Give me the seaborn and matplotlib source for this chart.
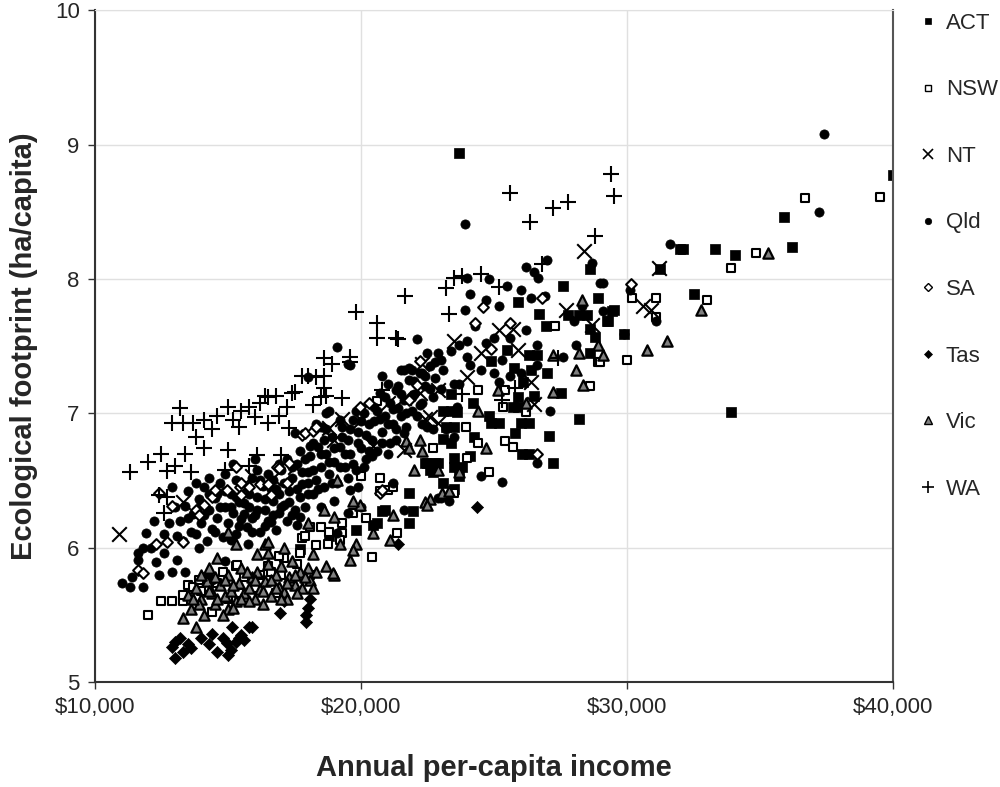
import numpy as np
import pandas as pd
import seaborn as sns
import matplotlib.pyplot as plt
from matplotlib.ticker import FuncFormatter
from matplotlib.lines import Line2D

sns.set_style('white')
plt.rcParams['font.family'] = ['Liberation Sans', 'DejaVu Sans']

# values: (income in $ thousands, footprint ha/capita)
act_pts = [(23.7,8.94),(28.6,8.07),(27.6,7.95),(28.9,7.86),(29.5,7.77),(25.9,7.83),(26.7,7.74),
    (26.95,7.65),(27.8,7.73),(28.2,7.73),(28.5,7.73),(28.6,7.63),(29.3,7.69),(28.8,7.57),(28.6,7.45),
    (26.3,7.43),(26.6,7.43),(25.5,7.47),(24.9,7.39),(25.75,7.34),(27.0,7.30),(26.4,7.32),(26.1,7.23),
    (26.5,7.13),(25.9,7.12),(25.7,7.05),(25.9,7.05),(27.5,7.15),(28.2,6.96),(27.05,6.83),(27.2,6.63),
    (26.0,6.93),(26.3,6.93),(24.9,6.93),(25.2,6.93),(24.8,6.98),(24.2,7.08),(23.4,7.14),(23.1,7.02),
    (23.4,7.02),(23.6,7.01),(23.5,6.90),(23.2,6.90),(25.8,6.85),(24.25,6.82),(23.1,6.81),(23.4,6.78),
    (24.1,6.68),(23.5,6.67),(23.5,6.60),(23.8,6.60),(23.7,6.53),(22.9,6.63),(22.4,6.63),(22.7,6.56),
    (23.1,6.48),(26.05,6.70),(26.3,6.70),(40.0,8.77),(35.9,8.46),(36.2,8.24),(34.05,8.18),(33.3,8.22),
    (32.1,8.22),(32.0,8.22),(31.25,8.07),(32.5,7.89),(29.45,7.76),(29.25,7.69),(29.9,7.59),(33.9,7.01),
    (21.8,6.41),(21.95,6.27),(21.8,6.18),(23.5,6.44),(20.8,6.27),(20.45,6.17),(19.8,6.13),(20.9,6.28),
    (20.6,6.18),(22.5,6.63),(22.8,6.63),(22.6,6.58),(17.7,5.99),(18.8,6.09)]

nsw_pts = [(12.0,5.50),(12.5,5.60),(12.9,5.60),(13.3,5.60),(13.3,5.65),(13.5,5.72),(13.7,5.71),
    (14.2,5.71),(14.25,5.78),(14.4,5.52),(14.6,5.74),(15.3,5.86),(15.35,5.87),(16.5,5.86),(17.1,5.92),
    (17.7,5.96),(16.9,5.94),(17.8,6.07),(17.9,6.09),(18.1,6.15),(18.5,6.15),(18.8,6.12),(18.75,6.03),
    (18.3,6.02),(19.3,6.11),(19.2,6.06),(19.3,6.18),(19.7,6.26),(20.2,6.22),(20.4,5.93),(21.35,6.11),
    (20.7,6.52),(20.7,6.42),(21.0,6.43),(21.2,6.45),(20.0,6.53),(20.6,7.09),(22.7,6.74),(23.5,6.41),
    (23.95,6.90),(24.0,6.67),(24.4,6.78),(24.4,7.17),(24.8,6.56),(25.4,7.17),(25.35,7.05),(25.4,6.79),
    (25.7,6.75),(26.2,7.01),(27.3,7.65),(28.6,7.20),(28.9,7.38),(29.0,7.38),(30.0,7.40),(30.2,7.86),
    (31.1,7.86),(31.1,7.72),(33.0,7.84),(33.9,8.08),(34.85,8.19),(36.7,8.60),(39.5,8.61),
    (15.0,5.62),(15.6,5.78),(16.0,5.70),(16.8,5.66),(17.4,5.74),(14.8,5.82),(16.2,5.80),(17.0,5.80),
    (14.0,5.68),(15.4,5.66),(16.6,5.82),(17.6,5.88),(18.1,5.80),(13.9,5.76)]

nt_pts = [(10.9,6.10),(13.3,6.34),(15.9,6.53),(16.7,6.52),(18.8,6.89),(19.3,6.96),(20.45,6.76),
    (21.0,7.08),(21.6,7.11),(22.2,7.15),(22.6,6.97),(21.6,6.73),(28.4,8.21),(27.7,7.77),(28.7,7.66),
    (25.2,7.62),(25.7,7.63),(23.5,7.54),(25.9,7.47),(26.4,7.23),(26.5,7.07),(24.0,7.27),(22.9,7.17),
    (22.3,7.37),(22.4,6.96),(22.9,6.93),(31.2,8.08),(30.6,7.80),(30.9,7.77),(19.0,6.80),(20.0,6.95),
    (17.5,6.60),(24.5,7.45)]

qld_pts = [(11.0,5.74),(11.3,5.71),(11.8,5.71),(11.4,5.78),(11.6,5.91),(11.6,5.96),(11.9,6.11),
    (11.8,6.00),(12.1,6.00),(12.4,5.80),(12.9,5.82),(13.4,5.82),(12.3,5.89),(12.6,5.96),(13.1,5.91),
    (12.8,6.18),(13.1,6.09),(14.2,5.78),(14.9,5.90),(15.75,6.03),(13.9,6.00),(14.4,5.76),
    (13.2,6.20),(13.4,6.31),(13.5,6.42),(13.6,6.12),(13.7,6.25),(13.9,6.36),(14.0,6.18),(14.1,6.45),
    (14.2,6.05),(14.3,6.28),(14.4,6.14),(14.5,6.37),(14.6,6.22),(14.7,6.48),(14.8,6.08),(14.9,6.30),
    (15.0,6.18),(15.1,6.40),(15.2,6.26),(15.3,6.10),(15.4,6.34),(15.5,6.21),(15.6,6.45),(15.7,6.15),
    (15.8,6.30),(15.9,6.52),(16.0,6.24),(16.1,6.38),(16.2,6.12),(16.3,6.46),(16.4,6.28),(16.5,6.55),
    (16.6,6.19),(16.7,6.35),(16.8,6.44),(16.9,6.26),(17.0,6.58),(17.1,6.32),(17.2,6.20),(17.3,6.42),
    (17.4,6.52),(17.5,6.28),(17.6,6.62),(17.7,6.38),(17.8,6.47),(17.9,6.30),(18.0,6.56),(18.1,6.68),
    (18.2,6.40),(18.3,6.50),(18.4,6.75),(18.5,6.60),(18.6,6.45),(18.7,6.70),(18.8,6.55),(18.9,6.82),
    (19.0,6.64),(19.1,6.48),(19.2,6.75),(19.3,6.90),(19.4,6.60),(19.5,6.80),(19.6,6.70),(19.7,6.95),
    (19.8,6.58),(19.9,6.86),(20.0,6.74),(20.1,7.00),(20.2,6.66),(20.3,6.92),(20.4,6.80),(20.5,7.05),
    (20.6,6.72),(20.7,6.96),(20.8,6.86),(20.9,7.12),(21.0,6.92),(21.1,6.78),(21.2,7.03),(21.3,6.88),
    (21.4,7.20),(21.5,6.98),(21.6,7.10),(21.7,6.90),(21.8,7.25),(21.9,7.02),(22.0,7.14),(22.1,6.98),
    (22.2,7.30),(22.3,7.08),(22.4,7.20),(22.6,7.35),(22.7,7.12),(22.8,7.26),(23.0,7.18),(23.1,7.32),
    (13.3,6.05),(13.8,6.48),(14.0,6.33),(14.3,6.52),(14.6,6.40),(14.9,6.55),(15.1,6.06),(15.3,6.50),
    (15.6,6.33),(15.9,6.22),(16.1,6.58),(16.4,6.16),(16.7,6.50),(16.9,6.62),(17.2,6.66),(17.4,6.24),
    (17.7,6.72),(18.0,6.40),(18.2,6.78),(18.5,6.30),(18.7,6.88),(19.0,6.35),(19.2,6.95),(19.5,6.52),
    (19.8,7.02),(20.1,6.60),(20.4,6.68),(20.7,7.15),(21.0,7.22),(21.3,6.80),(21.6,6.85),(21.9,7.32),
    (22.3,6.92),(22.5,7.45),(12.9,6.45),(13.0,6.30),(15.2,6.62),(16.0,6.66),(17.5,6.85),(18.3,6.92),
    (18.8,7.02),(16.8,6.13),(17.7,6.23),(17.6,6.17),(16.5,6.20),(19.1,6.11),(19.5,6.26),(19.6,6.43),
    (21.0,6.70),(21.2,6.48),(21.6,6.28),(22.9,6.37),(18.7,7.00),(18.5,6.90),(18.1,6.76),(18.0,7.27),
    (19.1,7.49),(19.5,7.37),(19.6,7.36),(20.8,7.28),(21.6,7.32),(21.5,7.32),(21.8,7.34),(22.9,7.45),
    (22.3,7.30),(21.3,7.17),(20.0,6.30),(19.9,6.45),
    (13.5,6.22),(13.8,6.10),(14.1,6.24),(14.3,6.40),(14.5,6.12),(14.7,6.30),(14.9,6.42),(15.1,6.30),
    (15.3,6.38),(15.4,6.16),(15.6,6.25),(15.8,6.40),(15.9,6.12),(16.1,6.28),(16.2,6.50),(16.4,6.36),
    (16.6,6.44),(16.7,6.24),(16.9,6.40),(17.0,6.30),(17.1,6.48),(17.3,6.34),(17.4,6.60),(17.6,6.44),
    (17.8,6.56),(17.9,6.66),(18.0,6.48),(18.2,6.58),(18.4,6.44),(18.5,6.70),(18.6,6.80),(18.8,6.64),
    (18.9,6.48),(19.0,6.74),(19.2,6.60),(19.3,6.82),(19.4,6.70),(19.6,6.88),(19.7,6.62),(19.9,6.78),
    (20.0,6.94),(20.2,6.84),(20.3,6.72),(20.5,6.94),(20.6,7.02),(20.8,6.78),(20.9,6.98),(21.1,7.08),
    (21.2,6.92),(21.4,7.04),(21.5,7.14),(21.7,7.00),(21.9,7.12),(22.0,7.24),(22.2,7.06),(22.4,7.28),
    (22.6,7.18),(22.8,7.38),(12.6,6.10),(12.2,6.20),
    (23.9,8.41),(24.0,8.01),(24.8,8.00),(25.5,7.95),(26.0,7.92),(26.2,8.09),(26.5,8.05),(26.65,8.01),
    (27.0,8.14),(24.1,7.89),(24.7,7.84),(25.2,7.80),(26.4,7.86),(26.9,7.87),(23.9,7.77),(28.7,8.12),
    (29.0,7.97),(29.1,7.76),(28.3,7.80),(28.0,7.69),(24.0,7.54),(23.7,7.51),(24.7,7.52),(25.0,7.56),
    (25.6,7.56),(26.2,7.62),(26.6,7.51),(26.6,7.36),(26.0,7.30),(25.6,7.28),(25.0,7.30),(25.2,7.23),
    (25.3,7.40),(24.0,7.42),(23.4,7.46),(23.0,7.40),(24.1,7.36),(24.5,7.32),(28.1,7.51),(27.6,7.42),
    (23.7,7.22),(23.5,7.22),(23.6,7.05),(23.2,6.88),(22.7,6.88),(22.5,6.90),(23.5,6.82),(26.6,6.63),
    (24.5,6.53),(25.3,6.49),(23.3,6.35),(23.0,6.37),(37.4,9.08),(37.2,8.50),(31.6,8.26),(30.1,7.92),
    (29.1,7.97),(31.1,7.69),(29.9,7.59),(27.1,7.02),(22.1,7.55),(24.3,7.65)]

sa_pts = [(11.6,5.83),(11.8,5.81),(12.3,6.03),(12.4,6.41),(12.7,6.04),(12.9,6.31),(13.3,6.04),
    (13.8,6.28),(13.9,6.24),(14.1,6.32),(14.4,6.38),(14.5,6.43),(14.95,6.43),(15.3,6.60),(15.45,6.45),
    (15.5,6.48),(15.5,6.39),(15.8,6.45),(16.2,6.47),(16.5,6.47),(16.6,6.39),(16.85,6.60),(16.9,6.59),
    (17.2,6.48),(17.3,6.63),(17.8,6.84),(17.9,6.85),(18.2,6.87),(18.3,6.90),(19.96,7.05),(20.3,7.08),
    (20.7,6.41),(20.8,6.43),(21.8,7.10),(22.1,7.21),(22.2,7.39),(24.3,7.67),(24.6,7.79),(24.9,7.48),
    (25.6,7.67),(26.6,6.70),(26.8,7.86),(30.15,7.96)]

tas_pts = [(12.9,5.26),(13.0,5.18),(13.2,5.33),(13.3,5.22),(13.5,5.28),(13.6,5.25),(13.0,5.30),
    (14.0,5.33),(14.3,5.28),(14.4,5.36),(14.6,5.22),(14.8,5.33),(14.95,5.29),(15.0,5.20),(15.1,5.24),
    (15.15,5.41),(15.3,5.30),(15.4,5.33),(15.5,5.35),(15.6,5.31),(15.8,5.41),(15.9,5.41),(16.95,5.51),
    (17.1,5.60),(17.95,5.50),(17.95,5.45),(18.0,5.55),(18.1,5.62),(21.4,6.03),(24.35,6.30)]

vic_pts = [(13.3,5.48),(13.6,5.54),(13.8,5.41),(14.1,5.50),(14.6,5.92),(15.0,5.54),(15.3,6.03),
    (16.1,5.95),(16.5,5.96),(16.4,6.03),(16.5,6.04),(17.1,6.00),
    (13.5,5.65),(13.8,5.70),(14.0,5.62),(14.2,5.75),(14.4,5.66),(14.5,5.58),(14.7,5.72),(14.9,5.64),
    (15.0,5.80),(15.1,5.68),(15.3,5.60),(15.4,5.74),(15.5,5.85),(15.6,5.66),(15.8,5.70),(15.9,5.78),
    (16.0,5.62),(16.1,5.82),(16.2,5.69),(16.4,5.75),(16.5,5.88),(16.6,5.64),(16.8,5.80),(16.9,5.71),
    (17.0,5.86),(17.1,5.67),(17.3,5.78),(17.4,5.90),(17.5,5.72),(17.7,5.82),(17.8,5.70),(18.0,5.85),
    (18.1,5.76),(18.3,5.82),(14.3,5.85),(15.2,5.55),(16.3,5.58),(17.2,5.62),(13.9,5.58),(14.8,5.50),
    (13.7,5.62),(14.0,5.80),(14.3,5.68),(14.6,5.62),(14.9,5.76),(15.2,5.72),(15.5,5.62),(15.7,5.82),
    (16.0,5.76),(16.3,5.68),(16.6,5.76),(16.8,5.70),(17.0,5.62),(17.2,5.74),(17.5,5.80),(17.6,5.66),
    (17.9,5.78),(18.2,5.70),(14.5,5.78),(15.8,5.60),
    (15.0,6.12),(18.0,6.18),(18.6,6.28),(19.0,6.23),(19.2,6.03),(19.8,6.03),(19.7,5.98),(19.6,5.91),
    (19.0,5.80),(18.7,5.86),(18.95,5.81),(19.96,6.32),(20.45,6.11),(21.2,6.24),(21.1,6.06),(21.7,6.79),
    (22.2,6.80),(21.8,6.74),(22.0,6.58),(22.4,6.34),(22.6,6.36),(19.1,6.50),(19.7,6.35),(23.05,6.41),
    (23.3,6.42),(22.5,6.32),(28.3,7.84),(28.2,7.45),(28.9,7.51),(29.1,7.43),(28.1,7.32),(28.35,7.21),
    (27.2,7.16),(27.2,7.43),(26.2,7.08),(25.15,7.17),(24.4,7.02),(24.7,6.74),(23.7,6.56),(22.9,6.58),
    (22.3,6.72),(35.3,8.19),(32.8,7.77),(31.5,7.54),(30.75,7.47),(18.2,5.95)]

wa_pts = [(11.3,6.56),(12.0,6.64),(12.5,6.70),(12.7,6.57),(13.0,6.61),(13.2,7.04),(12.9,6.93),
    (13.3,6.93),(13.4,6.70),(13.6,6.56),(13.7,6.93),(13.8,6.82),(14.1,6.95),(14.1,6.74),(14.4,6.88),
    (14.6,6.98),(14.9,6.58),(15.0,7.05),(15.0,6.73),(15.2,6.95),(15.4,6.90),(15.5,7.02),(15.8,7.05),
    (15.8,6.61),(16.0,6.97),(16.1,6.69),(16.2,7.08),(16.4,7.13),(16.5,7.12),(16.5,6.93),(16.8,7.13),
    (16.9,6.98),(17.0,6.69),(17.2,7.05),(17.3,6.89),(17.4,7.15),(17.5,7.16),(17.8,7.28),(18.0,7.28),
    (18.2,7.06),(18.3,7.27),(18.5,7.12),(18.6,7.41),(18.6,7.28),(18.6,7.19),(18.7,7.13),(18.9,7.37),
    (19.3,7.11),(19.6,7.42),(19.6,7.38),(19.8,7.75),(20.6,7.67),(20.6,7.56),(20.8,7.17),(21.3,7.56),
    (21.4,7.55),(21.65,7.87),(12.4,6.39),(12.6,6.26),(12.7,6.38),(23.2,7.93),(23.3,7.74),(23.5,8.01),
    (23.8,8.02),(23.8,7.14),(24.5,8.04),(25.2,7.94),(25.3,7.10),(25.6,8.64),(25.8,7.19),(26.35,8.42),
    (26.8,8.11),(27.2,8.53),(27.4,7.41),(27.8,8.57),(28.8,8.32),(29.4,8.78),(29.5,8.62)]

states = ['ACT', 'NSW', 'NT', 'Qld', 'SA', 'Tas', 'Vic', 'WA']
all_pts = [act_pts, nsw_pts, nt_pts, qld_pts, sa_pts, tas_pts, vic_pts, wa_pts]

rows = []
for st, pts in zip(states, all_pts):
    for inc, fp in pts:
        rows.append({'state': st, 'income': inc * 1000, 'footprint': fp})
df = pd.DataFrame(rows)

# marker, face colour, edge colour, size, line width
styles = {
    'ACT': ('s', 'black', 'black', 42, 0.5),
    'NSW': ('s', 'white', 'black', 36, 1.5),
    'NT':  ('x', 'black', 'black', 110, 1.5),
    'Qld': ('o', 'black', 'black', 44, 0.5),
    'SA':  ('D', 'white', 'black', 30, 1.5),
    'Tas': ('D', 'black', 'black', 38, 0.5),
    'Vic': ('^', '#808080', 'black', 55, 1.6),
    'WA':  ('+', 'black', 'black', 120, 1.5),
}

fig = plt.figure(figsize=(10, 7.87), dpi=100)
ax = fig.add_axes([0.095, 0.1334, 0.798, 0.8537])

for st in states:
    m, fc, ec, s, lw = styles[st]
    sub = df[df['state'] == st]
    if m in ('x', '+'):
        sns.scatterplot(data=sub, x='income', y='footprint', marker=m, color=fc,
                        s=s, linewidth=lw, ax=ax, legend=False)
    else:
        sns.scatterplot(data=sub, x='income', y='footprint', marker=m, color=fc,
                        edgecolor=ec, s=s, linewidth=lw, ax=ax, legend=False)

ax.set_xlim(10000, 40000)
ax.set_ylim(5, 10)
ax.set_xticks([10000, 20000, 30000, 40000])
ax.set_yticks([5, 6, 7, 8, 9, 10])
ax.xaxis.set_major_formatter(FuncFormatter(lambda v, p: '${:,.0f}'.format(v)))
ax.grid(True, color='#e0e0e0', linewidth=1)
ax.set_axisbelow(True)
for sp in ['left', 'bottom']:
    ax.spines[sp].set_color('#333333')
    ax.spines[sp].set_linewidth(1.5)
ax.spines['right'].set_color('#555555')
ax.spines['right'].set_linewidth(1.5)
ax.spines['top'].set_color('#e0e0e0')
ax.tick_params(axis='both', direction='out', length=5, width=1, color='#333333',
               labelsize=16, pad=6, left=True, bottom=True)
ax.set_xlabel('Annual per-capita income', fontsize=21, fontweight='bold', labelpad=26)
ax.set_ylabel('Ecological footprint (ha/capita)', fontsize=21, fontweight='bold', labelpad=12)

handles = []
for st in states:
    m, fc, ec, s, lw = styles[st]
    if m in ('x', '+'):
        h = Line2D([], [], linestyle='none', marker=m, color='black', markersize=np.sqrt(s) * 0.75,
                   markeredgewidth=1.2)
    else:
        h = Line2D([], [], linestyle='none', marker=m, markerfacecolor=fc, markeredgecolor=ec,
                   markersize=np.sqrt(s) * 0.7, markeredgewidth=1.0 if fc != 'black' else 0.5)
    handles.append(h)
fig.legend(handles, states, loc='upper left', bbox_to_anchor=(0.908, 0.995), frameon=False,
           fontsize=16, labelspacing=2.05, handletextpad=0.3, handlelength=1.0,
           borderaxespad=0)

fig.savefig('out.png', dpi=100)
